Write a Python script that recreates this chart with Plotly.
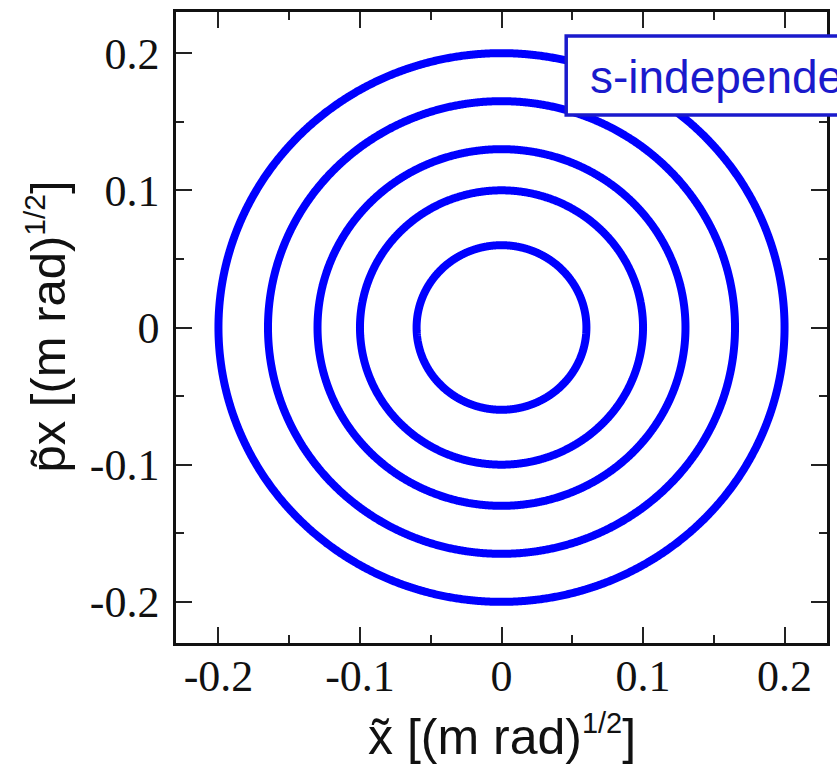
import numpy as np
import plotly.graph_objects as go

# Data: radii of the phase-space circles (in (m rad)^1/2)
radii = [0.06, 0.10, 0.13, 0.165, 0.20]
tick_vals = [-0.2, -0.1, 0, 0.1, 0.2]
tick_text = ["-0.2", "-0.1", "0", "0.1", "0.2"]
label_text = "s-independent"

W, H = 837, 767
L, R, T, B = 176, 7, 12, 124

theta = np.linspace(0, 2 * np.pi, 721)
fig = go.Figure()
for r in radii:
    fig.add_trace(go.Scatter(
        x=r * np.cos(theta), y=r * np.sin(theta), mode="lines",
        line=dict(color="#0000ff", width=8, simplify=False, shape="spline", smoothing=0.6),
        hoverinfo="skip", showlegend=False))

axis_common = dict(
    tickvals=tick_vals, ticktext=tick_text, range=[-0.23, 0.23],
    ticks="inside", ticklen=16, tickwidth=2, tickcolor="#222",
    showline=True, linecolor="#111", linewidth=2.5, mirror="ticks",
    showgrid=False, zeroline=False,
    tickfont=dict(family="Liberation Serif", size=44, color="#111"),
    minor=dict(ticks="inside", ticklen=8, tickwidth=2, tickcolor="#222", dtick=0.05, showgrid=False),
)
fig.update_xaxes(**axis_common, ticklabelstandoff=-8)
fig.update_yaxes(**axis_common, ticklabelstandoff=5)

pw = W - L - R
ph = H - T - B
def px(xp):
    return (xp - L) / pw
def py(yp):
    return (H - B - yp) / ph

fig.add_shape(type="rect", xref="paper", yref="paper",
              x0=px(568), x1=px(1100), y0=py(115), y1=py(36),
              line=dict(color="#1a1acc", width=3.5), fillcolor="white", layer="above")
fig.add_annotation(xref="paper", yref="paper", x=px(590), y=py(77),
                   xanchor="left", yanchor="middle", text=label_text, showarrow=False,
                   font=dict(family="Liberation Sans", size=46, color="#1a1acc"))

# axis titles
fig.add_annotation(xref="paper", yref="paper", x=px(504), y=py(736),
                   xanchor="center", yanchor="middle",
                   text="x\u0303 [(m rad)<sup><span style='font-size:29px'>1/2</span></sup>]",
                   showarrow=False,
                   font=dict(family="Liberation Sans", size=50, color="#111"))
fig.add_annotation(xref="paper", yref="paper", x=px(46), y=py(327),
                   xanchor="center", yanchor="middle", textangle=-90,
                   text="p\u0303x [(m rad)<sup><span style='font-size:30px'>1/2</span></sup>]",
                   showarrow=False,
                   font=dict(family="Liberation Sans", size=49, color="#111"))

fig.update_layout(width=W, height=H, margin=dict(l=L, r=R, t=T, b=B),
                  paper_bgcolor="white", plot_bgcolor="white", showlegend=False)
fig.write_html("out.html")
